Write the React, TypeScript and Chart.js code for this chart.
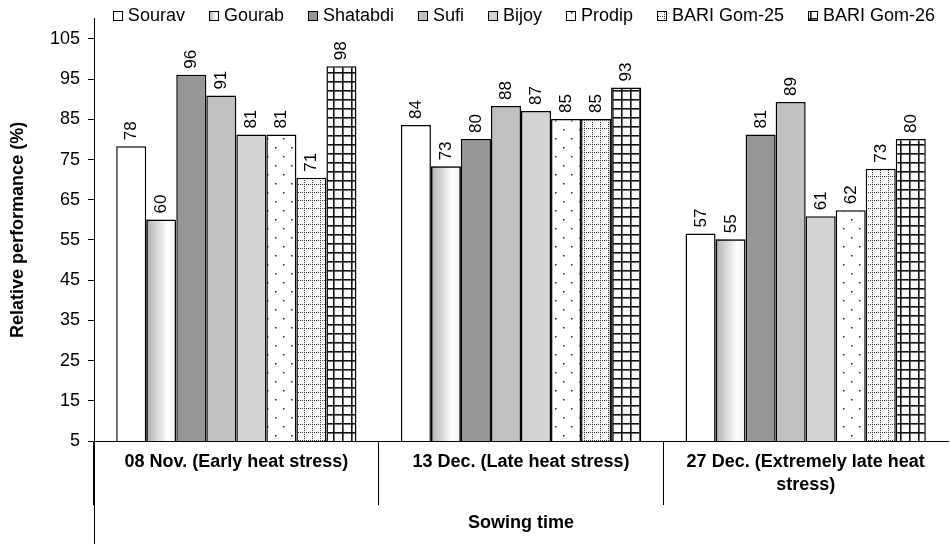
import React, { useEffect, useRef } from 'react';
import { Chart, registerables } from 'chart.js';

Chart.register(...registerables);

const CATEGORIES: string[][] = [
  ['08 Nov. (Early heat stress)'],
  ['13 Dec. (Late heat stress)'],
  ['27 Dec. (Extremely late heat', 'stress)'],
];
const SERIES_NAMES = ['Sourav', 'Gourab', 'Shatabdi', 'Sufi', 'Bijoy', 'Prodip', 'BARI Gom-25', 'BARI Gom-26'];
const SOURAV = [78.3, 83.6, 56.6];
const GOURAB = [60.1, 73.3, 55.2];
const SHATABDI = [96.1, 80.1, 81.2];
const SUFI = [90.9, 88.3, 89.3];
const BIJOY = [81.2, 87.1, 60.9];
const PRODIP = [81.2, 85.1, 62.4];
const BARI_GOM_25 = [70.5, 85.1, 72.7];
const BARI_GOM_26 = [98.2, 92.9, 80.1];
const SERIES_VALUES = [SOURAV, GOURAB, SHATABDI, SUFI, BIJOY, PRODIP, BARI_GOM_25, BARI_GOM_26];
const Y_TICKS = [5, 15, 25, 35, 45, 55, 65, 75, 85, 95, 105];
const Y_MIN = 5;
const Y_MAX = 110;
const Y_TITLE = 'Relative performance (%)';
const X_TITLE = 'Sowing time';

const FONT = "'Liberation Sans', Arial, sans-serif";

function makeTile(w: number, h: number, bg: string, draw: (g: CanvasRenderingContext2D) => void) {
  const c = document.createElement('canvas');
  c.width = w;
  c.height = h;
  const g = c.getContext('2d')!;
  g.fillStyle = bg;
  g.fillRect(0, 0, w, h);
  draw(g);
  return g.createPattern(c, 'repeat')!;
}

function gourabGradient(ctx: CanvasRenderingContext2D, left: number, width: number) {
  const gr = ctx.createLinearGradient(left, 0, left + width, 0);
  gr.addColorStop(0, '#b0b0b0');
  gr.addColorStop(0.72, '#ffffff');
  gr.addColorStop(1, '#f0f0f0');
  return gr;
}

export default function App() {
  const ref = useRef<HTMLCanvasElement | null>(null);

  useEffect(() => {
    document.body.style.margin = '0';
    const canvas = ref.current!;

    const dots = makeTile(16, 18, '#ffffff', (g) => {
      g.fillStyle = '#222';
      g.fillRect(3, 3, 1.5, 1.5);
      g.fillRect(11, 12, 1.5, 1.5);
    });
    const dottedGrid = makeTile(8, 8, '#fbfbfb', (g) => {
      g.fillStyle = '#333';
      for (let i = 0; i < 8; i += 2) {
        g.fillRect(i, 0, 1, 1);
        g.fillRect(0, i, 1, 1);
      }
    });
    const solidGrid = makeTile(9, 9, '#fbfbfb', (g) => {
      g.fillStyle = '#111';
      g.fillRect(0, 0, 9, 1.6);
      g.fillRect(0, 0, 1.6, 9);
    });

    const fills: any[] = ['#ffffff', 'rgba(0,0,0,0)', '#969696', '#c0c0c0', '#d4d4d4', dots, dottedGrid, solidGrid];

    const gradientPlugin = {
      id: 'gourabGradient',
      beforeDatasetDraw(chart: any, args: any) {
        if (args.index !== 1) return;
        const ctx = chart.ctx;
        const area = chart.chartArea;
        ctx.save();
        ctx.beginPath();
        ctx.rect(area.left, area.top, area.right - area.left, area.bottom - area.top);
        ctx.clip();
        args.meta.data.forEach((el: any) => {
          const { x, y, base, width } = el.getProps(['x', 'y', 'base', 'width'], true);
          const l = x - width / 2;
          const b = Math.min(base, area.bottom);
          ctx.fillStyle = gourabGradient(ctx, l, width);
          ctx.fillRect(l, y, width, b - y);
        });
        ctx.restore();
      },
    };

    const valueLabels = {
      id: 'valueLabels',
      afterDatasetsDraw(chart: any) {
        const ctx = chart.ctx;
        ctx.save();
        ctx.font = `17px ${FONT}`;
        ctx.fillStyle = '#000';
        ctx.textAlign = 'left';
        ctx.textBaseline = 'alphabetic';
        chart.data.datasets.forEach((ds: any, di: number) => {
          const meta = chart.getDatasetMeta(di);
          meta.data.forEach((el: any, i: number) => {
            const { x, y } = el.getProps(['x', 'y'], true);
            ctx.save();
            ctx.translate(x + 5, y - 6);
            ctx.rotate(-Math.PI / 2);
            ctx.fillText(String(Math.round(ds.data[i])), 0, 0);
            ctx.restore();
          });
        });
        ctx.restore();
      },
    };

    const extras = {
      id: 'extras',
      afterDraw(chart: any) {
        const ctx = chart.ctx;
        const area = chart.chartArea;
        ctx.save();
        const ax = Math.round(area.left) + 0.5;
        ctx.strokeStyle = '#000';
        ctx.lineWidth = 1;
        ctx.beginPath();
        ctx.moveTo(ax, area.bottom);
        ctx.lineTo(ax, chart.height - 3);
        ctx.stroke();

        ctx.font = `18px ${FONT}`;
        ctx.textBaseline = 'middle';
        ctx.textAlign = 'left';
        const box = 9;
        const gapText = 6;
        const gapItem = 24;
        const widths = SERIES_NAMES.map((n) => box + gapText + ctx.measureText(n).width);
        const total = widths.reduce((a, b) => a + b, 0) + gapItem * (widths.length - 1);
        let x = (area.left + area.right) / 2 - total / 2 + 3;
        const cy = 15;
        SERIES_NAMES.forEach((name, i) => {
          const bx = Math.round(x) + 0.5;
          const by = Math.round(cy - box / 2) + 0.5;
          ctx.fillStyle = i === 1 ? gourabGradient(ctx, bx, box) : fills[i];
          ctx.fillRect(bx, by, box, box);
          ctx.strokeStyle = '#000';
          ctx.lineWidth = 1;
          ctx.strokeRect(bx, by, box, box);
          ctx.fillStyle = '#000';
          ctx.fillText(name, x + box + gapText, cy + 1);
          x += widths[i] + gapItem;
        });
        ctx.restore();
      },
    };

    const chart = new Chart(canvas, {
      type: 'bar',
      data: {
        labels: CATEGORIES as any,
        datasets: SERIES_NAMES.map((name, i) => ({
          label: name,
          data: SERIES_VALUES[i],
          backgroundColor: fills[i],
          borderColor: '#000',
          borderWidth: 1.5,
          borderSkipped: false,
          barPercentage: 1,
          categoryPercentage: 0.844,
        })),
      },
      options: {
        responsive: false,
        animation: false,
        devicePixelRatio: 1,
        layout: { padding: { top: 16, right: 2, left: 0, bottom: 0 } },
        plugins: {
          legend: { display: false },
          tooltip: { enabled: false },
        },
        scales: {
          x: {
            grid: {
              display: true,
              drawOnChartArea: false,
              drawTicks: true,
              tickLength: 64,
              offset: true,
              color: (c: any) => (c.type === 'tick' ? '#000' : 'rgba(0,0,0,0)'),
              lineWidth: 1,
            },
            border: { display: true, color: '#000', width: 1 },
            ticks: {
              color: '#000',
              font: { family: FONT, size: 18, weight: 'bold', lineHeight: 1.25 },
              padding: -54,
              maxRotation: 0,
              autoSkip: false,
            },
            title: {
              display: true,
              text: X_TITLE,
              color: '#000',
              font: { family: FONT, size: 18, weight: 'bold' },
              padding: { top: 0, bottom: 13 },
            },
            afterFit: (s: any) => {
              s.height = 106;
            },
          },
          y: {
            min: Y_MIN,
            max: Y_MAX,
            grid: {
              display: true,
              drawOnChartArea: false,
              drawTicks: true,
              tickLength: 6,
              color: '#000',
            },
            border: { display: true, color: '#000', width: 1 },
            ticks: {
              color: '#000',
              font: { family: FONT, size: 18 },
              padding: 8,
            },
            afterBuildTicks: (s: any) => {
              s.ticks = Y_TICKS.map((v) => ({ value: v }));
            },
            title: {
              display: true,
              text: Y_TITLE,
              color: '#000',
              font: { family: FONT, size: 18, weight: 'bold' },
              padding: { top: 7, bottom: 0 },
            },
            afterFit: (s: any) => {
              s.width = 94;
            },
          },
        },
      } as any,
      plugins: [gradientPlugin, valueLabels, extras],
    });

    return () => chart.destroy();
  }, []);

  return (
    <div style={{ width: 950, height: 547, background: '#fff' }}>
      <canvas ref={ref} width={950} height={547} style={{ display: 'block' }} />
    </div>
  );
}
